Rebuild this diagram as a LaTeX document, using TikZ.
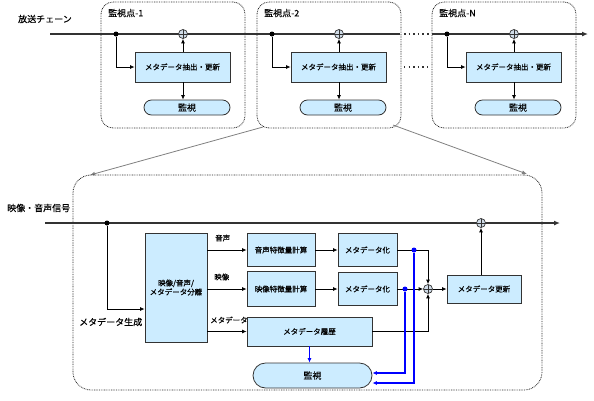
\documentclass[tikz,border=0pt]{standalone}
\usepackage{fontspec}
\setmainfont{Noto Sans CJK JP}[FakeBold=0.35]
\usetikzlibrary{arrows.meta,calc}
\definecolor{boxfill}{RGB}{204,236,255}
\definecolor{mainline}{RGB}{51,51,51}
\definecolor{opfill}{RGB}{208,220,232}
\begin{document}
\begin{tikzpicture}[x=1pt,y=-1pt,
  blk/.style={draw=black!80, fill=boxfill, line width=0.8pt, inner sep=1pt, font=\fontsize{7.5}{9}\selectfont, align=center},
  monbox/.style={draw=black!80, fill=boxfill, line width=0.8pt, font=\fontsize{9}{10}\selectfont},
  frame/.style={draw=black!85, line width=0.8pt, dash pattern=on 0.8pt off 0.9pt, rounded corners=12pt},
  oplus/.style={circle, draw=black!80, fill=opfill, minimum size=9pt, inner sep=0pt, line width=0.7pt,
    path picture={\draw[black!80, line width=0.7pt] (path picture bounding box.north) -- (path picture bounding box.south) (path picture bounding box.west) -- (path picture bounding box.east);}},
  jdot/.style={circle, fill=black, minimum size=5pt, inner sep=0pt},
  bdot/.style={circle, fill=blue, minimum size=5pt, inner sep=0pt},
  trunk/.style={draw=mainline, line width=1.6pt},
  conn/.style={draw=black, line width=0.8pt, -{Latex[length=4.5pt,width=4pt]}},
  link/.style={draw=black, line width=0.8pt},
  bconn/.style={draw=blue, line width=1.2pt, -{Latex[length=4.5pt,width=4pt]}},
  gconn/.style={draw=gray, line width=0.8pt, -{Latex[length=5pt,width=4pt]}},
  lab/.style={font=\fontsize{9}{10}\selectfont, inner sep=0pt},
  slab/.style={font=\fontsize{7.5}{9}\selectfont, inner sep=0pt},
]
\useasboundingbox (0,0) rectangle (594,400);

% ---------- top broadcast chain ----------
\coordinate (s0) at (50,34);
\coordinate (s1) at (400,34);
\coordinate (s2) at (432,34);
\coordinate (s3) at (588,34);
\coordinate (d1) at (404,34);
\coordinate (d2) at (430,34);
\coordinate (e1) at (404,67);
\coordinate (e2) at (430,67);

\node[lab, anchor=west] (chain) at (18,19) {放送チェーン};

\foreach \o/\n/\t in {0/a/監視点-1,156/b/監視点-2,331/c/監視点-N}{
  \node[frame, minimum width=144pt, minimum height=126pt] (fr\n) at (173+\o,65) {};
  \node[lab, anchor=west] (t\n) at (108+\o,13) {\t};
}

\draw[trunk] (s0) -- (s1);
\draw[trunk, -{Latex[length=6pt,width=5pt]}] (s2) -- (s3);
\draw[draw=mainline, line width=1.6pt, dash pattern=on 1.6pt off 3pt] (d1) -- (d2);
\draw[draw=mainline, line width=1.4pt, dash pattern=on 1.4pt off 3.2pt] (e1) -- (e2);

\foreach \o/\n in {0/a,156/b,331/c}{
  \node[blk, minimum width=95pt, minimum height=30pt] (ex\n) at (182.5+\o,67) {メタデータ抽出・更新};
  \node[oplus] (op\n) at (183+\o,34) {};
  \node[monbox, rounded corners=7.5pt, minimum width=86pt, minimum height=15pt, inner sep=0pt] (mo\n) at (187+\o,107.5) {監視};
  \node[jdot] (jd\n) at (116+\o,34) {};
  \draw[conn] (jd\n) |- (ex\n.west);
  \draw[conn] (ex\n.north -| op\n) -- (op\n);
  \draw[conn] (ex\n.south -| op\n) -- (op\n |- mo\n.north);
}

% ---------- zoom lines ----------
\coordinate (g1) at (263,127);
\coordinate (g2) at (393,125);
\coordinate (G1) at (90,175);
\coordinate (G2) at (527,174);
\draw[gconn] (g1) -- (G1);
\draw[gconn] (g2) -- (G2);

% ---------- detail frame ----------
\node[frame, rounded corners=18pt, minimum width=469pt, minimum height=215pt] (F) at (307.5,282.5) {};

\coordinate (u0) at (45,223);
\coordinate (u1) at (560,223);
\draw[trunk, -{Latex[length=6pt,width=5pt]}] (u0) -- (u1);
\node[lab, anchor=west] (sig) at (7,208) {映像・音声信号};

\node[jdot] (jd) at (107,223) {};
\node[oplus] (opt) at (481,223) {};

\node[blk, minimum width=62pt, minimum height=109pt] (sep) at (176,287.5) {映像/音声/\\メタデータ分離};
\node[blk, minimum width=68pt, minimum height=33pt] (afeat) at (281,250) {音声特徴量計算};
\node[blk, minimum width=68pt, minimum height=35pt] (vfeat) at (281,289) {映像特徴量計算};
\node[blk, minimum width=59pt, minimum height=33pt] (amd) at (367.5,250) {メタデータ化};
\node[blk, minimum width=59pt, minimum height=33pt] (vmd) at (367.5,289) {メタデータ化};
\node[blk, minimum width=125pt, minimum height=29pt] (hist) at (309.5,331.5) {メタデータ履歴};
\node[monbox, rounded corners=12.5pt, minimum width=119pt, minimum height=25pt, inner sep=0pt] (mon) at (312.5,375.5) {監視};
\node[oplus] (opm) at (428,289) {};
\node[blk, minimum width=74pt, minimum height=28pt] (upd) at (484,289) {メタデータ更新};

\node[slab, anchor=west] (la) at (215,238) {音声};
\node[slab, anchor=west] (lv) at (214,277) {映像};
\node[slab, anchor=west] (lm) at (210,320) {メタデータ};
\node[lab, anchor=west] (gen) at (79,322) {メタデータ生成};

\coordinate (gy) at (140,309);
\coordinate (m1) at (0,373);
\coordinate (m2) at (0,383);

\draw[conn] (jd) |- (sep.west |- gy);
\draw[conn] (sep.east |- afeat) -- (afeat.west);
\draw[conn] (sep.east |- vfeat) -- (vfeat.west);
\draw[conn] (sep.east |- hist) -- (hist.west);
\draw[conn] (afeat) -- (amd);
\draw[conn] (vfeat) -- (vmd);
\draw[conn] (amd.east) -| (opm.north);
\draw[conn] (vmd.east) -- (opm.west);
\draw[conn] (hist.east) -| (opm.south);
\draw[conn] (opm) -- (upd.west);
\draw[conn] (opt |- upd.north) -- (opt);

\node[bdot] (b1) at (414,250) {};
\node[bdot] (b2) at (405,289) {};
\draw[bconn] (b1) |- (mon.east |- m2);
\draw[bconn] (b2) |- (mon.east |- m1);
\draw[bconn] (hist.south) -- (hist.south |- mon.north);

\end{tikzpicture}
\end{document}
